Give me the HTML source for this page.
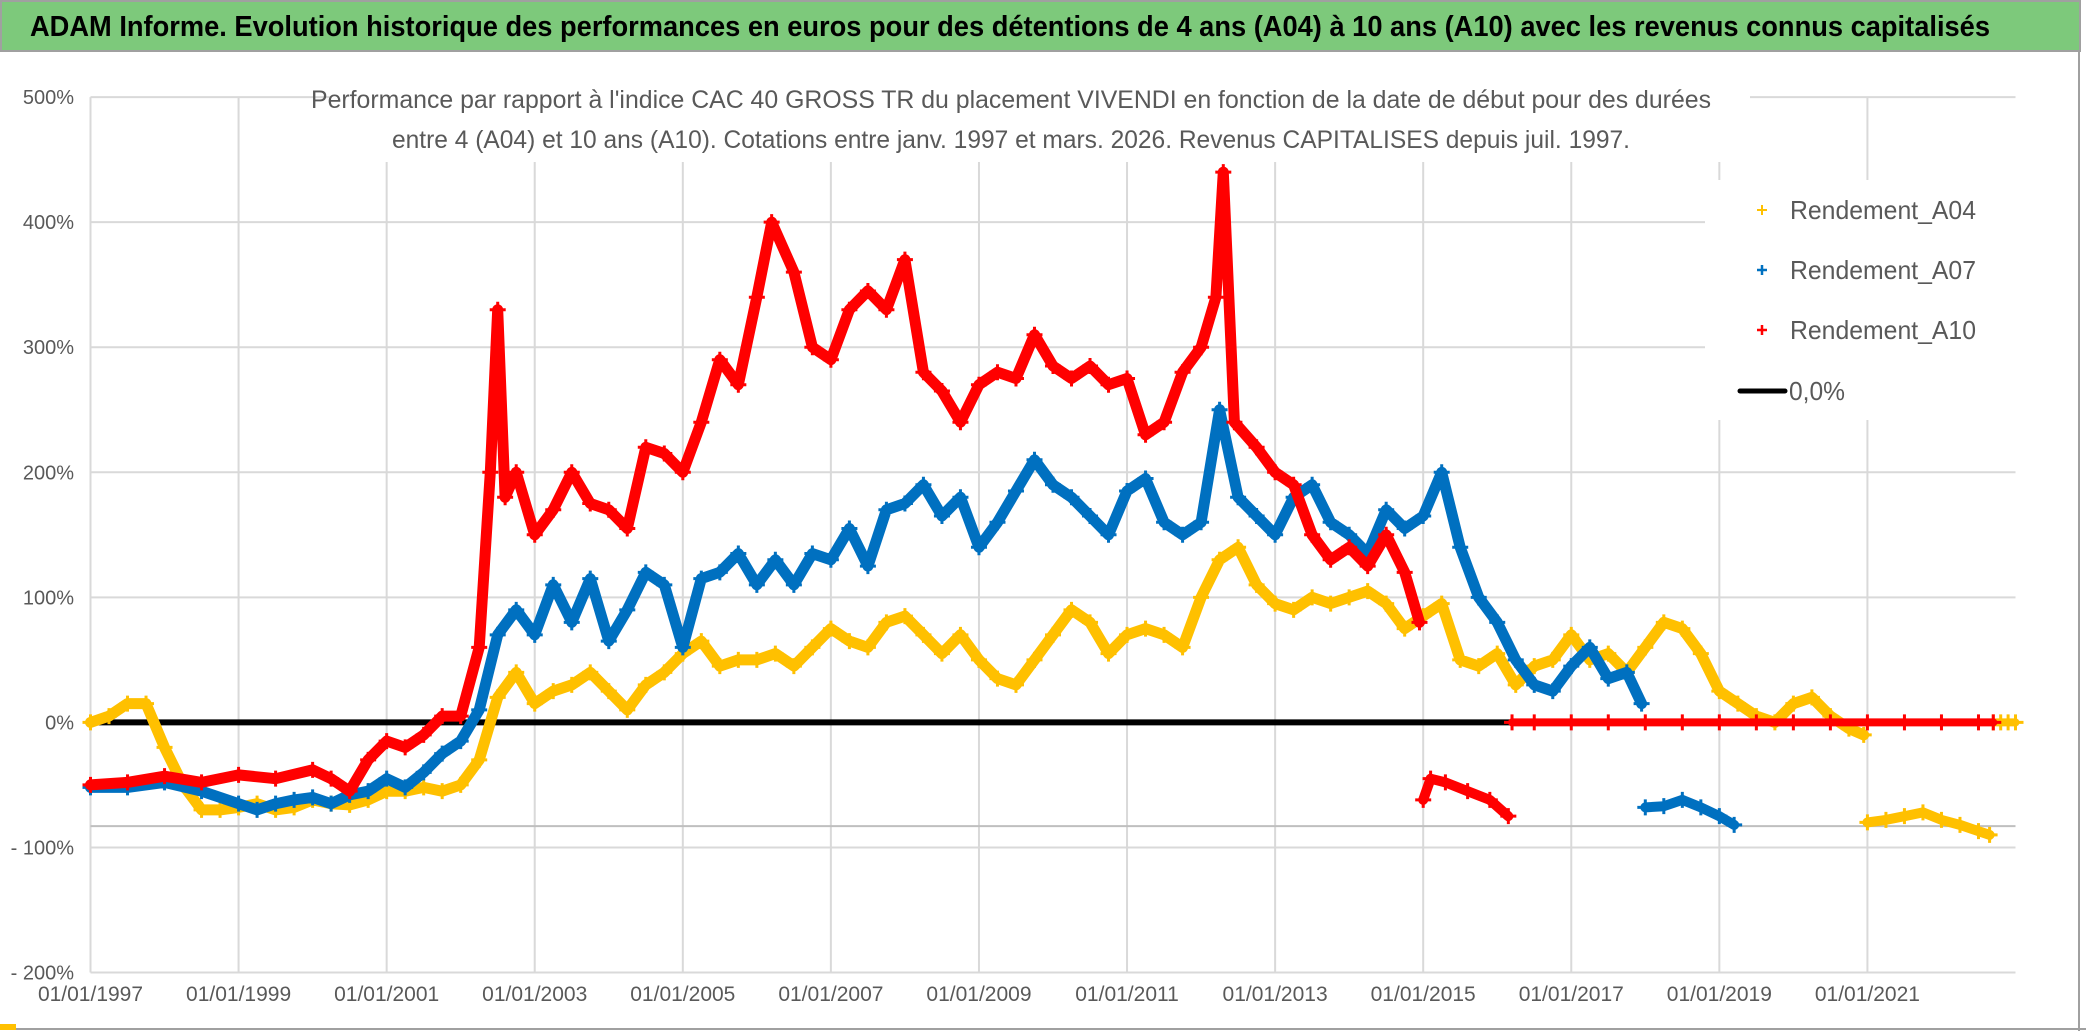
<!DOCTYPE html>
<html><head><meta charset="utf-8">
<style>
html,body{margin:0;padding:0;background:#fff;}
svg{display:block;font-family:"Liberation Sans",sans-serif;}
</style></head>
<body>
<svg id="chart" width="2086" height="1031" viewBox="0 0 2086 1031" xmlns="http://www.w3.org/2000/svg">
<rect x="0" y="0" width="2086" height="1031" fill="#fff"/>
<rect x="1" y="1" width="2079" height="50" fill="#7dc97b" stroke="#a0a0a0" stroke-width="2"/>
<text x="1010" y="36" text-anchor="middle" font-size="29" font-weight="bold" fill="#000" textLength="1960" lengthAdjust="spacingAndGlyphs">ADAM Informe. Evolution historique des performances en euros pour des détentions de 4 ans (A04) à 10 ans (A10) avec les revenus connus capitalisés</text>
<line x1="2079" y1="52" x2="2079" y2="1031" stroke="#a0a0a0" stroke-width="2"/>
<line x1="0" y1="1029" x2="2086" y2="1029" stroke="#a0a0a0" stroke-width="2"/>
<rect x="0" y="1024" width="16" height="6" fill="#ffc000"/>
<g id="grid"></g>
<g id="axes"></g>
<g id="series"></g>
<rect x="330" y="82" width="1420" height="80" fill="#fff"/>
<text x="1011" y="108" text-anchor="middle" font-size="25" fill="#595959" textLength="1400" lengthAdjust="spacingAndGlyphs">Performance par rapport à l'indice CAC 40 GROSS TR  du placement VIVENDI en fonction de la date de début pour des durées</text>
<text x="1011" y="148" text-anchor="middle" font-size="25" fill="#595959" textLength="1238" lengthAdjust="spacingAndGlyphs">entre 4 (A04) et 10 ans (A10). Cotations entre janv. 1997 et mars. 2026. Revenus CAPITALISES depuis juil. 1997.</text>
<g>
<rect x="1705" y="180" width="312" height="240" fill="#fff"/>
<g><path d="M1757 210h10M1762 205v10" stroke="#ffc000" stroke-width="2"/><text x="1790" y="219" font-size="26" fill="#595959" textLength="186" lengthAdjust="spacingAndGlyphs">Rendement_A04</text></g>
<g><path d="M1757 270h10M1762 265v10" stroke="#0070c0" stroke-width="2.5"/><text x="1790" y="279" font-size="26" fill="#595959" textLength="186" lengthAdjust="spacingAndGlyphs">Rendement_A07</text></g>
<g><path d="M1757 330h10M1762 325v10" stroke="#ff0000" stroke-width="2.5"/><text x="1790" y="339" font-size="26" fill="#595959" textLength="186" lengthAdjust="spacingAndGlyphs">Rendement_A10</text></g>
<g><line x1="1740" y1="391" x2="1785" y2="391" stroke="#000" stroke-width="5" stroke-linecap="round"/><text x="1789" y="400" font-size="26" fill="#595959" textLength="56" lengthAdjust="spacingAndGlyphs">0,0%</text></g>
</g>
</svg>
<script>
const yTicks=[500,400,300,200,100,0,-100,-200];
const yTickLabels=["500%","400%","300%","200%","100%","0%","- 100%","- 200%"];
const xTicks=[1997,1999,2001,2003,2005,2007,2009,2011,2013,2015,2017,2019,2021];
const xTickLabels=["01/01/1997","01/01/1999","01/01/2001","01/01/2003","01/01/2005","01/01/2007","01/01/2009","01/01/2011","01/01/2013","01/01/2015","01/01/2017","01/01/2019","01/01/2021"];
const xMin=1997, xMax=2023, yMin=-200, yMax=500;
const refLevel=-83;

const a04Years=[1997,1997.25,1997.5,1997.75,1998,1998.25,1998.5,1998.75,1999,1999.25,1999.5,1999.75,2000,2000.25,2000.5,2000.75,2001,2001.25,2001.5,2001.75,2002,2002.25,2002.5,2002.75,2003,2003.25,2003.5,2003.75,2004,2004.25,2004.5,2004.75,2005,2005.25,2005.5,2005.75,2006,2006.25,2006.5,2006.75,2007,2007.25,2007.5,2007.75,2008,2008.25,2008.5,2008.75,2009,2009.25,2009.5,2009.75,2010,2010.25,2010.5,2010.75,2011,2011.25,2011.5,2011.75,2012,2012.25,2012.5,2012.75,2013,2013.25,2013.5,2013.75,2014,2014.25,2014.5,2014.75,2015,2015.25,2015.5,2015.75,2016,2016.25,2016.5,2016.75,2017,2017.25,2017.5,2017.75,2018,2018.25,2018.5,2018.75,2019,2019.25,2019.5,2019.75,2020,2020.25,2020.5,2020.75,2020.95];
const a04Values=[0,5,15,15,-20,-50,-70,-70,-68,-65,-70,-68,-62,-65,-66,-62,-55,-55,-52,-55,-50,-30,20,40,15,25,30,40,25,10,30,40,55,65,45,50,50,55,45,60,75,65,60,80,85,70,55,70,50,35,30,50,70,90,80,55,70,75,70,60,100,130,140,110,95,90,100,95,100,105,95,75,85,95,50,45,55,30,45,50,70,50,55,40,60,80,75,55,25,15,5,0,15,20,5,-5,-10];
const a04TailYears=[2021,2021.25,2021.5,2021.75,2022,2022.25,2022.5,2022.65];
const a04TailValues=[-80,-78,-75,-72,-78,-82,-87,-90];
const a04ZeroYears=[2022.7,2022.8,2022.9,2023];
const a04ZeroValues=[0,0,0,0];

const a07Years=[1997,1997.5,1998,1998.5,1999,1999.25,1999.5,1999.75,2000,2000.25,2000.5,2000.75,2001,2001.25,2001.5,2001.75,2002,2002.25,2002.5,2002.75,2003,2003.25,2003.5,2003.75,2004,2004.25,2004.5,2004.75,2005,2005.25,2005.5,2005.75,2006,2006.25,2006.5,2006.75,2007,2007.25,2007.5,2007.75,2008,2008.25,2008.5,2008.75,2009,2009.25,2009.5,2009.75,2010,2010.25,2010.5,2010.75,2011,2011.25,2011.5,2011.75,2012,2012.25,2012.5,2012.75,2013,2013.25,2013.5,2013.75,2014,2014.25,2014.5,2014.75,2015,2015.25,2015.5,2015.75,2016,2016.25,2016.5,2016.75,2017,2017.25,2017.5,2017.75,2017.95];
const a07Values=[-52,-52,-48,-55,-65,-70,-65,-62,-60,-65,-58,-55,-45,-52,-40,-25,-15,10,70,90,70,110,80,115,65,90,120,110,60,115,120,135,110,130,110,135,130,155,125,170,175,190,165,180,140,160,185,210,190,180,165,150,185,195,160,150,160,250,180,165,150,180,190,160,150,135,170,155,165,200,140,100,80,50,30,25,45,60,35,40,15];
const a07TailYears=[2018,2018.25,2018.5,2018.75,2019,2019.2];
const a07TailValues=[-68,-67,-62,-68,-75,-82];

const a10Years=[1997,1997.5,1998,1998.5,1999,1999.5,2000,2000.25,2000.5,2000.75,2001,2001.25,2001.5,2001.75,2002,2002.25,2002.4,2002.5,2002.6,2002.75,2003,2003.25,2003.5,2003.75,2004,2004.25,2004.5,2004.75,2005,2005.25,2005.5,2005.75,2006,2006.2,2006.5,2006.75,2007,2007.25,2007.5,2007.75,2008,2008.25,2008.5,2008.75,2009,2009.25,2009.5,2009.75,2010,2010.25,2010.5,2010.75,2011,2011.25,2011.5,2011.75,2012,2012.2,2012.3,2012.45,2012.75,2013,2013.25,2013.5,2013.75,2014,2014.25,2014.5,2014.75,2014.95];
const a10Values=[-50,-48,-43,-48,-42,-45,-38,-45,-55,-30,-15,-20,-10,5,5,60,200,330,180,200,150,170,200,175,170,155,220,215,200,240,290,270,340,400,360,300,290,330,345,330,370,280,265,240,270,280,275,310,285,275,285,270,275,230,240,280,300,340,440,240,220,200,190,150,130,140,125,150,120,80];
const a10TailYears=[2015,2015.1,2015.3,2015.6,2015.9,2016.15];
const a10TailValues=[-62,-45,-48,-55,-62,-75];
const a10ZeroYears=[2016.2,2016.5,2017,2017.5,2018,2018.5,2019,2019.5,2020,2020.5,2021,2021.5,2022,2022.5,2022.7];
const a10ZeroValues=[0,0,0,0,0,0,0,0,0,0,0,0,0,0,0];
const zeroLineYears=[1997,2016.2];

const L=90.5,R=2015.5,T=97.1,B=972.5;
function xS(v){return L+(v-xMin)/(xMax-xMin)*(R-L);}
function yS(v){return B-(v-yMin)/(yMax-yMin)*(B-T);}
const NS="http://www.w3.org/2000/svg";
function mk(tag,attrs,parent){const e=document.createElementNS(NS,tag);for(const k in attrs)e.setAttribute(k,attrs[k]);parent.appendChild(e);return e;}
const grid=document.getElementById('grid'),axes=document.getElementById('axes'),ser=document.getElementById('series');

yTicks.forEach((t,i)=>{
  const ln=mk('line',{x1:L,x2:R,y1:yS(t),y2:yS(t),stroke:'#d9d9d9','stroke-width':2},grid);
  
  
  const tx=mk('text',{x:74,y:yS(t)+7,'text-anchor':'end','font-size':20,fill:'#595959'},axes);
  tx.textContent=yTickLabels[i];
  
  
});
xTicks.forEach((t,i)=>{
  const ln=mk('line',{x1:xS(t),x2:xS(t),y1:T,y2:B,stroke:'#d9d9d9','stroke-width':2},grid);
  
  
  const tx=mk('text',{x:xS(t),y:1001,'text-anchor':'middle','font-size':21,fill:'#595959'},axes);
  tx.textContent=xTickLabels[i];
  
  
});
const rl=mk('line',{x1:L,x2:R,y1:yS(refLevel),y2:yS(refLevel),stroke:'#bfbfbf','stroke-width':2},grid);



const zl=mk('line',{x1:xS(zeroLineYears[0]),x2:xS(zeroLineYears[1]),y1:yS(0),y2:yS(0),stroke:'#000','stroke-width':6},ser);



function drawSeries(xs,ys,color,name,lw){
  const g=mk('g',{},ser);
  
  
  const pts=xs.map((x,i)=>xS(x).toFixed(1)+','+yS(ys[i]).toFixed(1)).join(' ');
  const pl=mk('polyline',{points:pts,fill:'none',stroke:color,'stroke-width':lw,'stroke-linejoin':'round','stroke-linecap':'round'},g);
  
  
  xs.forEach((x,i)=>{
    const cx=xS(x),cy=yS(ys[i]);
    const p=mk('path',{d:`M${cx-8} ${cy}h16M${cx} ${cy-8}v16`,stroke:color,'stroke-width':3},g);
    
    
  });
}
drawSeries(a04Years,a04Values,'#ffc000','series-a04',11);
drawSeries(a04TailYears,a04TailValues,'#ffc000','series-a04-tail',10);
drawSeries(a04ZeroYears,a04ZeroValues,'#ffc000','series-a04-zero',8);
drawSeries(a07Years,a07Values,'#0070c0','series-a07',11);
drawSeries(a07TailYears,a07TailValues,'#0070c0','series-a07-tail',10);
drawSeries(a10Years,a10Values,'#ff0000','series-a10',11);
drawSeries(a10TailYears,a10TailValues,'#ff0000','series-a10-tail',10);
drawSeries(a10ZeroYears,a10ZeroValues,'#ff0000','series-a10-zero',8);
</script>
</body></html>
